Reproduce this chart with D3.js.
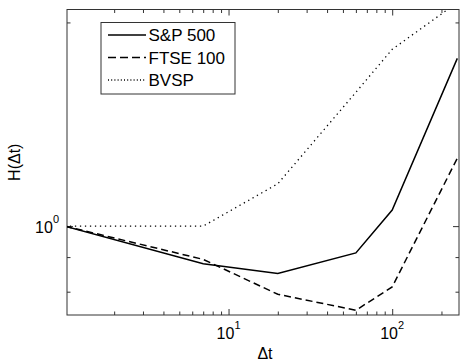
<!DOCTYPE html>
<html lang="en">
<head>
    <meta charset="UTF-8">
    <title>H(dt)</title>
    <style>
        body {
            margin: 0;
            background: #fff;
        }

        #chart svg {
            display: block;
            font-family: "Liberation Sans", Arial, sans-serif;
        }
    </style>
</head>
<body>
<div id="chart"></div>

<script src="https://cdn.jsdelivr.net/npm/d3@7"></script>
<script>
    // time horizons (days) and H(dt) per index
    const dt = [1, 7, 20, 60, 100, 250]
    const sp500 = [1.0, 0.88, 0.851, 0.913, 1.056, 1.77]
    const ftse100 = [1.0, 0.893, 0.793, 0.751, 0.813, 1.26]
    const bvsp = [1.0, 1.0, 1.155, 1.577, 1.825, 2.14]

    const seriesNames = ["S&P 500", "FTSE 100", "BVSP"]
    const xMajorTicks = [10, 100]
    const xMinorTicks = [2, 3, 4, 5, 6, 7, 8, 9, 20, 30, 40, 50, 60, 70, 80, 90, 200]
    const yMajorTicks = [1]
    const yMinorTicks = [0.8, 0.9, 2]

    const width = 463
    const height = 363
    const plotLeft = 67
    const plotRight = 459
    const plotTop = 9.5
    const plotBottom = 315

    const series = [
        {name: seriesNames[0], values: sp500, dash: null, legendDash: null, width: 1.5},
        {name: seriesNames[1], values: ftse100, dash: "7,4", legendDash: "8,4", width: 1.5},
        {name: seriesNames[2], values: bvsp, dash: "1.3,3.7", legendDash: "1,2.2", width: 1.3}
    ]

    const x = d3.scaleLog().domain([1.03, 256]).range([plotLeft, plotRight])
    const y = d3.scaleLog().domain([0.739, 2.09]).range([plotBottom, plotTop])

    const svg = d3.select("#chart").append("svg")
        .attr("width", width)
        .attr("height", height)

    svg.append("defs").append("clipPath")
        .attr("id", "plot-clip")
        .append("rect")
        .attr("x", plotLeft)
        .attr("y", plotTop)
        .attr("width", plotRight - plotLeft)
        .attr("height", plotBottom - plotTop)

    // axes: ticks point inward on all four sides
    function styleAxis(g) {
        g.select(".domain").remove()
        g.selectAll("line").attr("stroke", "#333").attr("stroke-width", 1)
    }

    svg.append("g").attr("transform", `translate(0, ${plotBottom})`)
        .call(d3.axisBottom(x).tickValues(xMajorTicks).tickSize(-6).tickFormat(""))
        .call(styleAxis)
    svg.append("g").attr("transform", `translate(0, ${plotBottom})`)
        .call(d3.axisBottom(x).tickValues(xMinorTicks).tickSize(-3.5).tickFormat(""))
        .call(styleAxis)
    svg.append("g").attr("transform", `translate(0, ${plotTop})`)
        .call(d3.axisTop(x).tickValues(xMajorTicks).tickSize(-6).tickFormat(""))
        .call(styleAxis)
    svg.append("g").attr("transform", `translate(0, ${plotTop})`)
        .call(d3.axisTop(x).tickValues(xMinorTicks).tickSize(-3.5).tickFormat(""))
        .call(styleAxis)

    svg.append("g").attr("transform", `translate(${plotLeft}, 0)`)
        .call(d3.axisLeft(y).tickValues(yMajorTicks).tickSize(-6).tickFormat(""))
        .call(styleAxis)
    svg.append("g").attr("transform", `translate(${plotLeft}, 0)`)
        .call(d3.axisLeft(y).tickValues(yMinorTicks).tickSize(-3.5).tickFormat(""))
        .call(styleAxis)
    svg.append("g").attr("transform", `translate(${plotRight}, 0)`)
        .call(d3.axisRight(y).tickValues(yMajorTicks).tickSize(-6).tickFormat(""))
        .call(styleAxis)
    svg.append("g").attr("transform", `translate(${plotRight}, 0)`)
        .call(d3.axisRight(y).tickValues(yMinorTicks).tickSize(-3.5).tickFormat(""))
        .call(styleAxis)

    // box
    svg.append("rect")
        .attr("x", plotLeft)
        .attr("y", plotTop)
        .attr("width", plotRight - plotLeft)
        .attr("height", plotBottom - plotTop)
        .attr("fill", "none")
        .attr("stroke", "#333")
        .attr("stroke-width", 1)

    // tick labels as 10^n
    const xLabels = svg.selectAll(".x-label")
        .data(xMajorTicks)
        .enter().append("text")
        .attr("class", "x-label")
        .attr("x", (d) => x(d))
        .attr("y", 339)
        .style("font-size", "16px")
        .style("text-anchor", "middle")
    xLabels.append("tspan").text("10")
    xLabels.append("tspan")
        .text((d) => Math.round(Math.log10(d)))
        .attr("dy", -10)
        .style("font-size", "11px")

    const yLabels = svg.selectAll(".y-label")
        .data(yMajorTicks)
        .enter().append("text")
        .attr("class", "y-label")
        .attr("x", 59)
        .attr("y", (d) => y(d) + 6.5)
        .style("font-size", "16px")
        .style("text-anchor", "end")
    yLabels.append("tspan").text("10")
    yLabels.append("tspan")
        .text((d) => Math.round(Math.log10(d)))
        .attr("dy", -10)
        .style("font-size", "11px")

    svg.append("text")
        .text("\u0394t")
        .attr("x", (plotLeft + plotRight) / 2 + 2)
        .attr("y", 359)
        .style("font-size", "16px")
        .style("text-anchor", "middle")

    svg.append("text")
        .text("H(\u0394t)")
        .attr("transform", `translate(20, ${(plotTop + plotBottom) / 2}) rotate(-90)`)
        .style("font-size", "16px")
        .style("text-anchor", "middle")

    // series lines
    const line = d3.line()
        .x((d, i) => x(dt[i]))
        .y((d) => y(d))

    svg.append("g")
        .attr("clip-path", "url(#plot-clip)")
        .selectAll("path")
        .data(series)
        .enter().append("path")
        .attr("d", (d) => line(d.values))
        .attr("fill", "none")
        .attr("stroke", "#000")
        .attr("stroke-width", (d) => d.width)
        .attr("stroke-dasharray", (d) => d.dash)

    // legend
    const legend = svg.append("g")

    legend.append("rect")
        .attr("x", 101)
        .attr("y", 22.5)
        .attr("width", 134)
        .attr("height", 71.5)
        .attr("fill", "#fff")
        .attr("stroke", "#333")
        .attr("stroke-width", 1)

    const legendRows = legend.selectAll(".legend-row")
        .data(series)
        .enter().append("g")
        .attr("class", "legend-row")
        .attr("transform", (d, i) => `translate(0, ${35 + i * 22.5})`)

    legendRows.append("line")
        .attr("x1", 108)
        .attr("x2", 146)
        .attr("y1", 0)
        .attr("y2", 0)
        .attr("stroke", "#000")
        .attr("stroke-width", (d) => d.width)
        .attr("stroke-dasharray", (d) => d.legendDash)

    legendRows.append("text")
        .text((d) => d.name)
        .attr("x", 148.5)
        .attr("y", 6)
        .style("font-size", "17px")
</script>
</body>
</html>
